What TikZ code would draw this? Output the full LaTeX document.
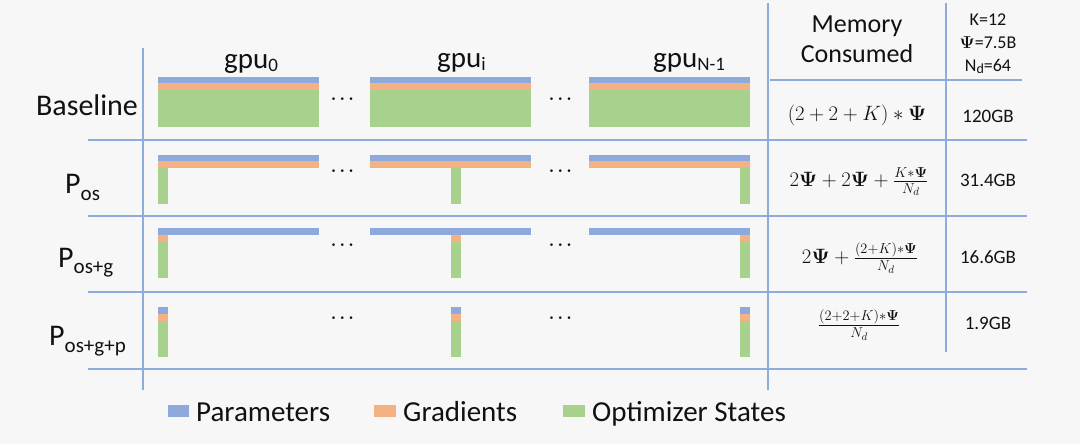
\documentclass[tikz,border=0pt]{standalone}
\usepackage{amsmath,amssymb,bm}
\usepackage{fontspec}
\setmainfont{Carlito}
\definecolor{pblue}{HTML}{8EA9DB}
\definecolor{porange}{HTML}{F4B183}
\definecolor{pgreen}{HTML}{A9D18E}
\definecolor{gline}{HTML}{8FAADC}
\definecolor{bgc}{HTML}{F7F7F7}
\definecolor{ink}{HTML}{111111}
\newcommand\lowsub[3]{\raisebox{-#1}{\fontsize{#2}{#2}\selectfont #3}}
\newcommand\bPsi{\boldsymbol{\Psi}}
\tikzset{
  gridline/.style={draw=gline,line width=1.2pt},
  lbl/.style={inner sep=0pt,text=ink,font=\fontsize{30}{32}\selectfont},
  gpul/.style={inner sep=0pt,text=ink,font=\fontsize{29}{32}\selectfont,anchor=base west},
  hdr/.style={inner sep=0pt,text=ink,font=\fontsize{26}{30}\selectfont,align=center},
  small/.style={inner sep=0pt,text=ink,font=\fontsize{18}{23}\selectfont,align=center},
  val/.style={inner sep=0pt,text=ink,font=\fontsize{19}{23}\selectfont,anchor=base},
  formula/.style={inner sep=0pt,text=ink,font=\fontsize{21}{25}\selectfont},
  dots/.style={inner sep=0pt,text=ink,font=\fontsize{17}{17}\selectfont},
  legtext/.style={inner sep=0pt,text=ink,font=\fontsize{29}{30}\selectfont,anchor=base west},
}
\begin{document}
\begin{tikzpicture}[x=1pt,y=-1pt]
\fill[bgc] (0,0) rectangle (1080,444);
\useasboundingbox (0,0) rectangle (1080,444);

% grid lines
\draw[gridline] (143,48) -- (143,390);
\draw[gridline] (768,3) -- (768,390);
\draw[gridline] (946,3) -- (946,352);
\draw[gridline] (770,80) -- (1022,80);
\foreach \yy in {140,216,292,369} \draw[gridline] (88,\yy) -- (1027,\yy);

% baseline row
\foreach \xx in {158,370,589}{
  \fill[pblue] (\xx,77) rectangle (\xx+161,83);
  \fill[porange] (\xx,83) rectangle (\xx+161,90);
  \fill[pgreen] (\xx,90) rectangle (\xx+161,127);
}
% P_os row
\foreach \xx/\ss in {158/158,370/451,589/740}{
  \fill[pblue] (\xx,155) rectangle (\xx+161,161);
  \fill[porange] (\xx,161) rectangle (\xx+161,168);
  \fill[pgreen] (\ss,168) rectangle (\ss+10,204);
}
% P_os+g row
\foreach \xx/\ss in {158/158,370/451,589/740}{
  \fill[pblue] (\xx,228) rectangle (\xx+161,235);
  \fill[porange] (\ss,235) rectangle (\ss+10,242);
  \fill[pgreen] (\ss,242) rectangle (\ss+10,278);
}
% P_os+g+p row
\foreach \ss in {158,451,740}{
  \fill[pblue] (\ss,307) rectangle (\ss+10,314);
  \fill[porange] (\ss,314) rectangle (\ss+10,321);
  \fill[pgreen] (\ss,321) rectangle (\ss+10,357);
}

% dots
\foreach \yy [count=\i] in {99,171,245,318}{
  \node[dots] (da\i) at (344,\yy) {$\boldsymbol{\cdots}$};
  \node[dots] (db\i) at (562,\yy) {$\boldsymbol{\cdots}$};
}

% column headers
\node[gpul] (gpu0) at (224,69) {gpu\lowsub{3pt}{19}{0}};
\node[gpul] (gpui) at (437,68) {gpu\lowsub{3pt}{19}{i}};
\node[gpul] (gpun) at (653,68) {gpu\lowsub{3pt}{19}{N-1}};

% row labels
\node[lbl,anchor=base] (base) at (87,115) {Baseline};
\node[lbl,anchor=base west] (pos) at (65,193) {P\lowsub{7pt}{21}{os}};
\node[lbl,anchor=base west] (posg) at (58,267) {P\lowsub{6pt}{21}{os+g}};
\node[lbl,anchor=base west] (posgp) at (49,345) {P\lowsub{7pt}{21}{os+g+p}};

% memory header
\node[hdr] (mem) at (857,39) {Memory\\Consumed};
\node[small] (params) at (988,44) {K=12\\$\bPsi$=7.5B\\N\lowsub{2pt}{14}{d}=64};

% formulas
\node[formula] (f1) at (857,115) {$(2+2+K)*\bPsi$};
\node[formula] (f2) at (859,182) {$2\bPsi+2\bPsi+\frac{K*\bPsi}{N_d}$};
\node[formula] (f3) at (860,258) {$2\bPsi+\frac{(2+K)*\bPsi}{N_d}$};
\node[formula] (f4) at (859,325) {$\frac{(2+2+K)*\bPsi}{N_d}$};

% values
\node[val] (v1) at (988,122) {120GB};
\node[val] (v2) at (988,186) {31.4GB};
\node[val] (v3) at (988,263) {16.6GB};
\node[val] (v4) at (988,329) {1.9GB};

% legend
\fill[pblue] (168,405) rectangle (189,417);
\node[legtext] (lp) at (196,421) {Parameters};
\fill[porange] (374,405) rectangle (396,417);
\node[legtext] (lg) at (403,421) {Gradients};
\fill[pgreen] (563,405) rectangle (585,417);
\node[legtext] (lo) at (592,421) {Optimizer States};
\end{tikzpicture}
\end{document}
